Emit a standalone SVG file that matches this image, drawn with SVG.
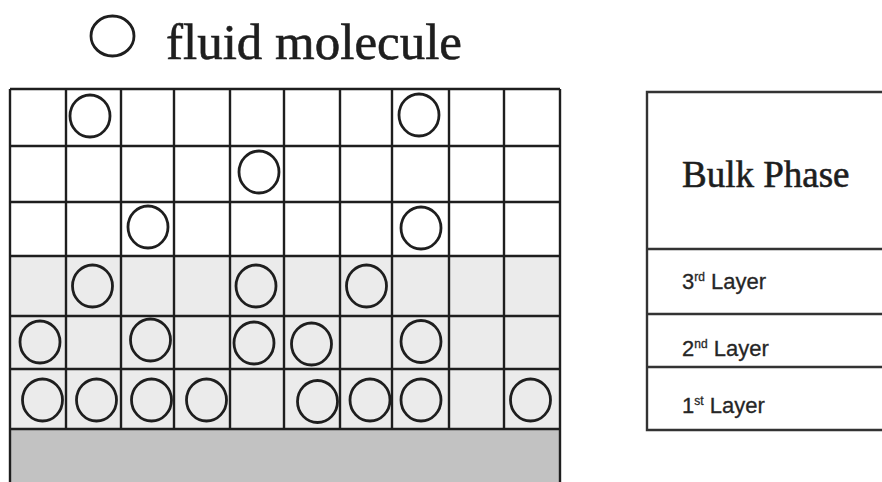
<svg xmlns="http://www.w3.org/2000/svg" width="882" height="482" viewBox="0 0 882 482">
<style>
.grid{stroke:#1e1e1e;stroke-width:2.4;fill:none}
.mol{fill:none;stroke:#1e1e1e;stroke-width:2.8}
.serif{font-family:"Liberation Serif","Times New Roman",serif;fill:#1e1e1e;stroke:#1e1e1e;stroke-width:0.6}
.sans{font-family:"Liberation Sans",Arial,sans-serif;fill:#262626;font-size:22px;stroke:#262626;stroke-width:0.3}
.sup{font-size:12px}
.box{stroke:#333;stroke-width:2.4;fill:none}
</style>
<rect width="882" height="482" fill="#ffffff"/>
<g id="legend">
<ellipse cx="112.5" cy="36" rx="21.5" ry="20" class="mol"/>
<text x="166" y="59" class="serif" font-size="51">fluid molecule</text>
</g>
<g id="lattice">
<rect x="10" y="256" width="550" height="173" fill="#ebebeb"/>
<rect x="10" y="429" width="550" height="60" fill="#c2c2c2"/>
<path class="grid" d="M10 89H560M10 146H560M10 202H560M10 256H560M10 316H560M10 369H560M10 429H560M10 89V482M66 89V429M121 89V429M174 89V429M230 89V429M284 89V429M340 89V429M392 89V429M449 89V429M504 89V429M560 89V482"/>
</g>
<g id="molecules">
<ellipse class="mol" cx="90" cy="116" rx="20" ry="21"/>
<ellipse class="mol" cx="419" cy="115" rx="20" ry="21"/>
<ellipse class="mol" cx="259" cy="172" rx="20" ry="21"/>
<ellipse class="mol" cx="148" cy="227" rx="20" ry="21"/>
<ellipse class="mol" cx="421" cy="228" rx="20" ry="21"/>
<ellipse class="mol" cx="92.5" cy="286" rx="20" ry="21"/>
<ellipse class="mol" cx="256" cy="286" rx="20" ry="21"/>
<ellipse class="mol" cx="366.5" cy="286" rx="20" ry="21"/>
<ellipse class="mol" cx="40" cy="342" rx="20" ry="21"/>
<ellipse class="mol" cx="150.5" cy="340" rx="20" ry="21"/>
<ellipse class="mol" cx="254" cy="343" rx="20" ry="21"/>
<ellipse class="mol" cx="311.5" cy="344" rx="20" ry="21"/>
<ellipse class="mol" cx="421" cy="341.5" rx="20" ry="21"/>
<ellipse class="mol" cx="42.5" cy="400" rx="20" ry="21"/>
<ellipse class="mol" cx="96.5" cy="400" rx="20" ry="21"/>
<ellipse class="mol" cx="151.5" cy="400" rx="20" ry="21"/>
<ellipse class="mol" cx="206.5" cy="400" rx="20" ry="21"/>
<ellipse class="mol" cx="317.5" cy="401.5" rx="20" ry="21"/>
<ellipse class="mol" cx="370" cy="400" rx="20" ry="21"/>
<ellipse class="mol" cx="421" cy="400" rx="20" ry="21"/>
<ellipse class="mol" cx="530.5" cy="400" rx="20" ry="21"/>
</g>
<g id="layers">
<path class="box" d="M890 92H647V430H890M647 249H890M647 314H890M647 367H890"/>
<text x="682" y="187" class="serif" font-size="37">Bulk Phase</text>
<text x="682" y="289" class="sans">3<tspan class="sup" dy="-8">rd</tspan><tspan dy="8"> Layer</tspan></text>
<text x="682" y="356" class="sans">2<tspan class="sup" dy="-8">nd</tspan><tspan dy="8"> Layer</tspan></text>
<text x="682" y="413" class="sans">1<tspan class="sup" dy="-8">st</tspan><tspan dy="8"> Layer</tspan></text>
</g>
</svg>
